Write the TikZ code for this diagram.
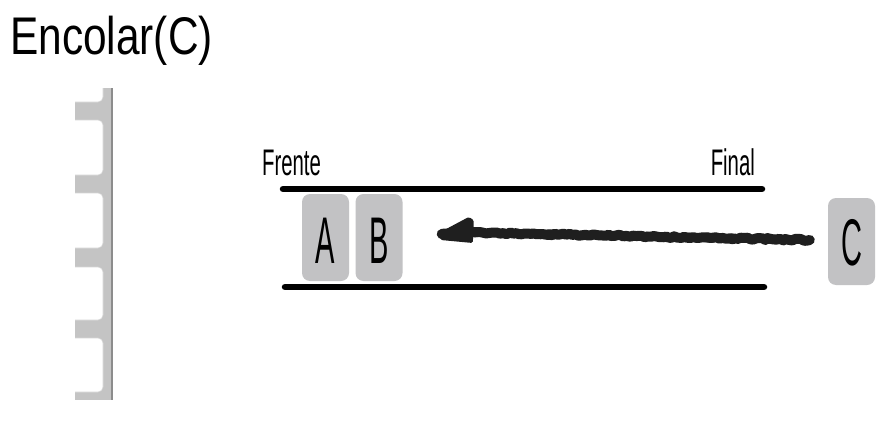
\documentclass[tikz,border=0pt]{standalone}
\usepackage{fontspec}
\setmainfont{Liberation Sans}
\usetikzlibrary{decorations.pathmorphing,calc}
\definecolor{boxgray}{HTML}{C2C2C4}
\definecolor{bargray}{HTML}{C4C4C4}
\definecolor{bardark}{HTML}{8C8C8C}
\tikzset{
  elem/.style={draw=none, fill=boxgray, rounded corners=8pt, minimum width=47pt, minimum height=87pt, inner sep=0pt},
  letter/.style={inner sep=0pt, font=\fontsize{66}{66}\selectfont, xscale=0.44},
  label/.style={inner sep=0pt, font=\fontsize{37}{37}\selectfont, xscale=0.55},
  rail/.style={line width=6.5pt, line cap=round},
  rough/.style={line width=10pt, line cap=round, line join=round, draw=black!88,
    decorate, decoration={random steps, segment length=3pt, amplitude=1pt}},
  gap/.style={fill=white, draw=bargray!70, line width=0.6pt, rounded corners=5pt}
}
\begin{document}
\begin{tikzpicture}[x=1pt,y=-1pt]
\useasboundingbox (0,0) rectangle (891,436);
\fill[white] (0,0) rectangle (891,436);
% title
\node[anchor=base west, inner sep=0pt, font=\fontsize{53}{53}\selectfont, xscale=0.8] (title) at (10,55) {Encolar(C)};
% left stack
\fill[bargray] (75,88) rectangle (112,400);
\begin{scope}
\clip (75,88) rectangle (112,400);
\path[gap] (70,70) rectangle (103,102);
\path[gap] (70,120) rectangle (103,175);
\path[gap] (70,193) rectangle (103,248);
\path[gap] (70,267) rectangle (103,320);
\path[gap] (70,338) rectangle (103,392);
\end{scope}
\draw[bardark, line width=1.6pt] (112,88) -- (112,400);
% rails
\coordinate (r1a) at (283,189);
\coordinate (r1b) at (762,189);
\coordinate (r2a) at (285,287);
\coordinate (r2b) at (764,287);
\draw[rail] (r1a) -- (r1b);
\draw[rail] (r2a) -- (r2b);
% labels
\node[label, anchor=base west] (frente) at (262,175) {Frente};
\node[label, anchor=base east] (final) at (755,175) {Final};
% elements
\node[elem] (A) at (325.5,237.5) {};
\node[elem] (B) at (379,237.5) {};
\node[elem] (C) at (851.5,241.5) {};
\node[letter] (tA) at ($(A.center)+(0,3)$) {A};
\node[letter] (tB) at ($(B.center)+(0,3)$) {B};
\node[letter] (tC) at ($(C.center)+(0,1)$) {C};
% arrow
\coordinate (s) at ($(C.west)+(-18,-1.5)$);
\coordinate (k) at ($(B.east)+(200,-2)$);
\coordinate (m) at ($(B.east)+(68,-5)$);
\coordinate (e) at ($(B.east)+(36,-4.5)$);
\draw[rough] (s) -- (k) -- (m);
\draw[rough, line width=7pt, decoration={random steps, segment length=2pt, amplitude=1.5pt}] (s) -- (k) -- (m);
\fill[black!88, rounded corners=1.5pt]
  (e) -- ($(e)+(30,-16)$) -- ($(e)+(35,-13)$) -- ($(e)+(35,-3)$) -- ($(e)+(34,10)$) -- ($(e)+(2,7)$) -- cycle;
\draw[rough, line width=10pt] ($(e)+(3,1)$) -- (m);
\end{tikzpicture}
\end{document}
